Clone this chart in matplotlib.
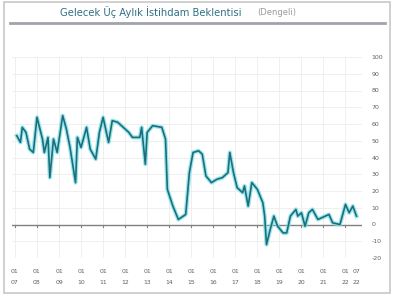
import matplotlib
matplotlib.use("Agg")
import matplotlib.pyplot as plt
from matplotlib.patches import Rectangle
from matplotlib.lines import Line2D

title = "Gelecek Üç Aylık İstihdam Beklentisi"
subtitle = "(Dengeli)"

months = [1, 3, 4, 6, 8, 10, 12, 15, 16, 18, 19, 21, 23, 26, 28, 30, 33, 34, 36, 39,
          41, 44, 46, 48, 51, 53, 56, 59, 62, 64, 68, 69, 71, 72, 75, 80, 82, 83, 86, 89,
          93, 95, 97, 100, 102, 104, 107, 110, 113, 116, 117, 119, 121, 124, 125, 127, 129,
          132, 135, 136, 137, 139, 141, 143, 146, 148, 150, 153, 154, 156, 158, 160, 162,
          165, 167, 171, 173, 177, 180, 182, 184, 186]
values = [53, 49, 58, 55, 45, 43, 64, 51, 43, 52, 28, 51, 43, 65, 57, 46, 25, 52, 46, 58,
          45, 39, 55, 64, 49, 62, 61, 58, 55, 52, 52, 58, 36, 55, 59, 58, 51, 21, 11, 3,
          6, 31, 43, 44, 42, 29, 25, 27, 28, 31, 43, 31, 22, 19, 23, 11, 25,
          21, 13, 5, -12, -3, 5, -1, -5, -5, 5, 9, 5, 7, -1, 7, 9,
          3, 4, 6, 1, 0, 12, 7, 11, 5]

tick_pos = [0, 12, 24, 36, 48, 60, 72, 84, 96, 108, 120, 132, 144, 156, 168, 180, 186]
tick_labels = ["01\n07", "01\n08", "01\n09", "01\n10", "01\n11", "01\n12", "01\n13",
               "01\n14", "01\n15", "01\n16", "01\n17", "01\n18", "01\n19", "01\n20",
               "01\n21", "01\n22", "07\n22"]
y_ticks = [-20, -10, 0, 10, 20, 30, 40, 50, 60, 70, 80, 90, 100]

fig = plt.figure(figsize=(4.0, 3.06), dpi=100)
fig.patch.set_facecolor("white")

# outer frame
fig.add_artist(Rectangle((4/400, 1 - 293/306), 386/400, 291/306, transform=fig.transFigure,
                         fill=False, edgecolor="#c8c8c8", linewidth=1.2))
# title band line
fig.add_artist(Line2D([10/400, 385/400], [1 - 23/306, 1 - 23/306], transform=fig.transFigure,
                      color="#a0a4a8", linewidth=2.0))
fig.text(60/400, 1 - 12.5/306, title, fontsize=7.2, color="#2f6f86",
         va="center", ha="left")
fig.text(257/400, 1 - 12.5/306, subtitle, fontsize=6.0, color="#9a9a9a", va="center", ha="left")

ax = fig.add_axes([12/400, 1 - 258/306, 350/400, 201/306])
ax.set_xlim(-1.6, 189)
ax.set_ylim(-20, 100)

for y in y_ticks:
    ax.axhline(y, color="#ececec", linewidth=0.6, zorder=0)
for x in tick_pos[:-1]:
    ax.axvline(x, color="#ececec", linewidth=0.6, zorder=0)
ax.axhline(0, color="#808080", linewidth=1.0, zorder=1)
for x in tick_pos[:-1]:
    ax.plot([x, x], [0, -1.5], color="#808080", linewidth=0.8, zorder=1)

ax.plot(months, values, color="#7fe0ea", linewidth=3.0, alpha=0.8, zorder=2, solid_joinstyle="round")
ax.plot(months, values, color="#1f6d78", linewidth=1.2, zorder=3, solid_joinstyle="round")

for s in ax.spines.values():
    s.set_visible(False)

ax.yaxis.tick_right()
ax.set_yticks(y_ticks)
ax.set_yticklabels([str(v) for v in y_ticks])
ax.tick_params(axis="y", length=0, labelsize=4.5, labelcolor="#606060", pad=7)
ax.set_xticks(tick_pos)
ax.set_xticklabels(tick_labels)
ax.tick_params(axis="x", length=0, labelsize=4.4, labelcolor="#606060", pad=8)
for lbl in ax.get_xticklabels():
    lbl.set_linespacing(2.5)

fig.savefig("out.png", dpi=100)
